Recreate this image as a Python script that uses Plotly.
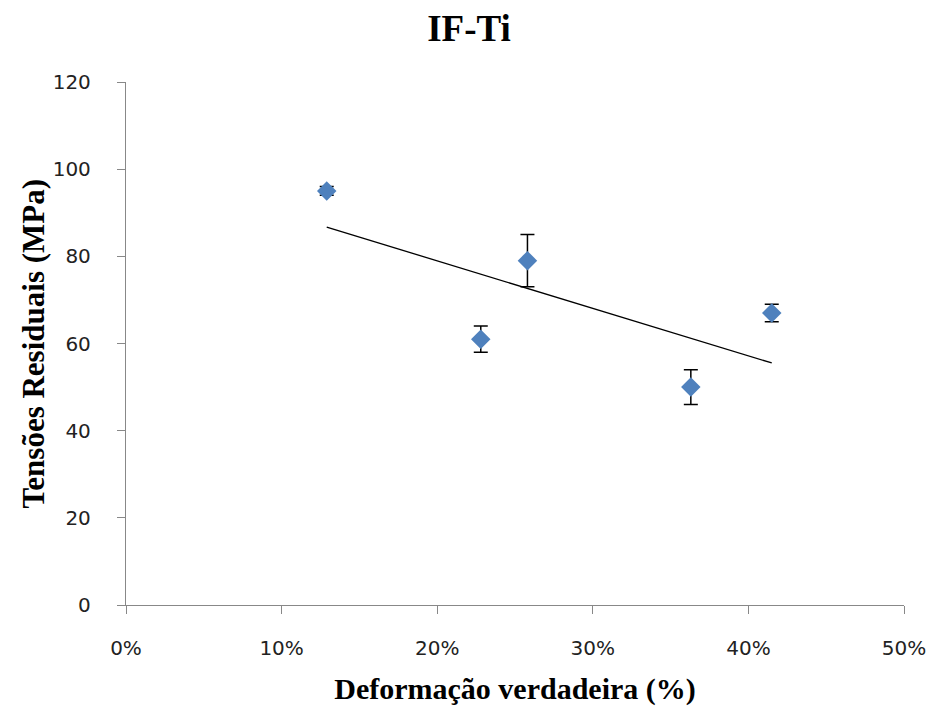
import numpy as np
import plotly.graph_objects as go

# Data
deformacao = [0.129, 0.228, 0.258, 0.363, 0.415]   # true strain (fraction)
tensoes = [95, 61, 79, 50, 67]                      # residual stress (MPa)
erro = [1, 3, 6, 4, 2]                              # error bar (MPa)
x_ticks = [0, 0.1, 0.2, 0.3, 0.4, 0.5]
y_ticks = [0, 20, 40, 60, 80, 100, 120]

# Linear trendline (least squares) over data range
coef = np.polyfit(deformacao, tensoes, 1)
xt = np.array([min(deformacao), max(deformacao)])
yt = np.polyval(coef, xt)

fig = go.Figure()
fig.add_trace(go.Scatter(
    x=xt, y=yt, mode="lines",
    line=dict(color="black", width=1.3),
    showlegend=False, hoverinfo="skip"))
fig.add_trace(go.Scatter(
    x=deformacao, y=tensoes, mode="markers",
    marker=dict(symbol="diamond", size=15, color="#4F81BD"),
    error_y=dict(type="data", array=erro, visible=True,
                 color="black", thickness=1.5, width=7),
    showlegend=False))

fig.update_layout(
    width=938, height=706,
    paper_bgcolor="white", plot_bgcolor="white",
    margin=dict(l=126, r=34, t=82, b=101),
    title=dict(text="<b>IF-Ti</b>", x=0.5, xanchor="center", y=1 - 28 / 706, yanchor="middle",
               font=dict(family="Liberation Serif", size=37, color="black")),
    xaxis=dict(range=[0, 0.5], tickvals=x_ticks, tickformat=".0%",
               automargin=False,
               showline=True, linecolor="#888888", linewidth=1.3,
               ticks="outside", tickcolor="#888888", ticklen=8,
               ticklabelstandoff=17,
               showgrid=False, zeroline=False,
               tickfont=dict(family="DejaVu Sans", size=20, color="#222222"),
               title=dict(text="<b>Deformação verdadeira (%)</b>", standoff=18,
                          font=dict(family="Liberation Serif", size=30, color="black"))),
    yaxis=dict(range=[0, 120], tickvals=y_ticks,
               automargin=False,
               showline=True, linecolor="#888888", linewidth=1.3,
               ticks="outside", tickcolor="#888888", ticklen=8,
               ticklabelstandoff=22,
               showgrid=False, zeroline=False,
               tickfont=dict(family="DejaVu Sans", size=20, color="#222222")),
    annotations=[dict(
        text="<b>Tensões Residuais (MPa)</b>", textangle=-90,
        xref="paper", yref="paper", x=(33 - 126) / 778, y=0.5,
        xanchor="center", yanchor="middle", showarrow=False,
        font=dict(family="Liberation Serif", size=31, color="black"))],
)

fig.write_html("out.html")
